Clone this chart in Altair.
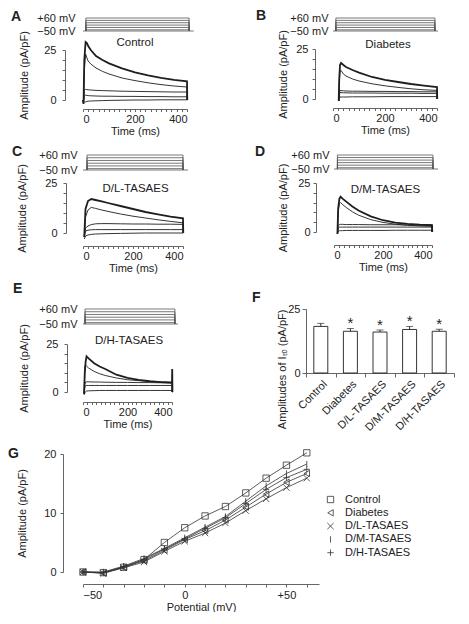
import altair as alt
import pandas as pd

FONT = "Liberation Sans"
INK = "#1e1e1e"
GREY = "#555555"

# ---------------- voltage protocol (mV) ----------------
STEPS = [60, 40, 20, 0, -20, -40]
HOLD = -50
# [step on, step off, end of holding line] (ms)
A_proto = [11, 408, 426]
B_proto = [11, 392, 404]
C_proto = [16, 400, 420]
D_proto = [14, 404, 425]
E_proto = [9, 413, 427]

# ---------------- current traces (pA/pF) ----------------
A_t = [0, 2, 5, 10, 15, 20, 30, 50, 75, 100, 150, 200, 250, 300, 350, 400, 401]
A_s1 = [0, -2, 20, 29, 28.5, 27, 25, 22, 20, 18.3, 15.8, 13.8, 12.3, 11.1, 10.1, 9.3, 0]
A_s2 = [0, -1.5, 15, 23, 21, 19.5, 18, 16, 14.3, 13, 11, 9.7, 8.6, 7.7, 7.0, 6.5, 0]
A_s3 = [0, -1, 5, 5.3, 5.2, 5.1, 5, 4.8, 4.7, 4.6, 4.4, 4.3, 4.2, 4.1, 4.0, 4.0, 0]
A_s4 = [0, -1, 2.2, 2.4, 2.3, 2.2, 2.1, 2.0, 1.9, 1.9, 1.8, 1.8, 1.7, 1.7, 1.6, 1.6, 0]
A_s5 = [0, -1.5, -1.2, -0.9, -0.7, -0.6, -0.5, -0.4, -0.3, -0.2, -0.1, 0, 0, 0.1, 0.1, 0.1, 0]

B_t = [22, 24, 27, 31, 40, 50, 75, 100, 150, 200, 250, 300, 350, 400, 401]
B_s1 = [-1, 10, 17, 18, 17, 16, 14.5, 13.2, 11, 9.6, 8.5, 7.5, 6.7, 6.0, 0]
B_s2 = [-1, 8, 14, 14.3, 12.5, 11.5, 10, 9, 7.6, 6.6, 5.8, 5.1, 4.6, 4.3, 0]
B_s3 = [-1, 3, 4.2, 4.2, 4.1, 4.0, 3.9, 3.9, 3.8, 3.8, 3.7, 3.7, 3.6, 3.6, 0]
B_s4 = [-1, 2, 3.2, 3.2, 3.1, 3.1, 3.0, 3.0, 3.0, 2.9, 2.9, 2.9, 2.8, 2.8, 0]
B_s5 = [-1, 0.5, 1.0, 1.0, 1.0, 1.0, 1.1, 1.1, 1.1, 1.2, 1.2, 1.2, 1.2, 1.2, 0]

C_t = [5, 10, 20, 33, 50, 75, 100, 150, 200, 250, 300, 350, 400, 401]
C_s1 = [-2, 12, 16, 17, 16.5, 15.8, 15, 13.5, 12, 10.5, 9.3, 8.2, 7.3, 0]
C_s2 = [-2, 8, 11.5, 12.8, 12.3, 11.5, 10.8, 9.5, 8.4, 7.5, 6.6, 5.8, 5.1, 0]
C_s3 = [-2, 2.5, 3.5, 4.2, 4.6, 4.7, 4.7, 4.6, 4.5, 4.5, 4.4, 4.4, 4.3, 0]
C_s4 = [-2, 1, 1.4, 1.6, 1.7, 1.7, 1.7, 1.7, 1.7, 1.7, 1.7, 1.7, 1.7, 0]
C_s5 = [-3, -1.5, -1, -0.7, -0.5, -0.4, -0.3, -0.2, -0.1, 0, 0, 0, 0, 0]

D_t = [14, 17, 22, 27, 35, 50, 75, 100, 150, 200, 250, 300, 350, 400, 401]
D_s1 = [-1, 12, 17, 18, 17, 15.5, 13, 11, 8, 6, 4.8, 4.1, 3.7, 3.5, 0]
D_s2 = [-1, 10, 14.5, 15, 14, 12.5, 10.3, 8.6, 6.3, 4.9, 4.0, 3.4, 3.1, 2.9, 0]
D_s3 = [-1, 3, 3.8, 3.9, 3.9, 3.8, 3.8, 3.8, 3.7, 3.7, 3.7, 3.6, 3.6, 3.6, 0]
D_s4 = [-1, 1.8, 2.4, 2.5, 2.5, 2.5, 2.5, 2.5, 2.5, 2.5, 2.5, 2.5, 2.5, 2.5, 0]
D_s5 = [-1, 0.3, 0.6, 0.7, 0.7, 0.8, 0.8, 0.8, 0.8, 0.8, 0.9, 0.9, 0.9, 0.9, 0]

E_t = [5, 8, 12, 16, 25, 50, 75, 100, 150, 200, 250, 300, 350, 400, 401, 402]
E_s1 = [-1, 10, 16, 18.6, 17.5, 15, 13.3, 12, 9, 7.3, 6.3, 5.6, 5.1, 4.8, 12, 0]
E_s2 = [-1, 13, 14, 13.5, 12.5, 10.7, 9.5, 8.6, 7.3, 6.4, 5.9, 5.5, 5.3, 5.2, 0, 0]
E_s3 = [-1, 4, 5.2, 5.3, 5.3, 5.2, 5.2, 5.1, 5.0, 5.0, 4.9, 4.9, 4.8, 4.8, 0, 0]
E_s4 = [-1, 2.5, 3.3, 3.4, 3.4, 3.4, 3.4, 3.4, 3.4, 3.4, 3.4, 3.4, 3.4, 3.4, 0, 0]
E_s5 = [-1.5, -0.5, 0.2, 0.5, 0.6, 0.7, 0.8, 0.8, 0.8, 0.8, 0.8, 0.8, 0.8, 0.8, 0, 0]

# ---------------- panel F ----------------
F_groups = ["Control", "Diabetes", "D/L-TASAES", "D/M-TASAES", "D/H-TASAES"]
F_mean = [18.2, 16.3, 16.0, 17.0, 16.3]
F_err = [1.2, 1.1, 0.8, 1.2, 0.8]
F_sig = ["", "*", "*", "*", "*"]

# ---------------- panel G ----------------
G_pot = [-50, -40, -30, -20, -10, 0, 10, 20, 30, 40, 50, 60]
G_groups = ["Control", "Diabetes", "D/L-TASAES", "D/M-TASAES", "D/H-TASAES"]
G_control = [0, -0.1, 0.8, 2.1, 5.0, 7.5, 9.5, 11.1, 13.4, 15.9, 18.1, 20.2]
G_diabetes = [0, -0.2, 0.8, 1.9, 3.7, 5.5, 7.0, 8.8, 11.0, 13.2, 15.2, 16.7]
G_dl = [0, -0.2, 0.7, 1.7, 3.5, 5.2, 6.6, 8.3, 10.4, 12.4, 14.3, 15.9]
G_dm = [0, 0, 1.0, 2.3, 4.0, 5.8, 7.6, 9.4, 12.0, 14.6, 16.7, 18.3]
G_dh = [0, -0.1, 0.9, 2.1, 3.9, 5.6, 7.4, 9.2, 11.6, 14.0, 16.0, 17.4]


def proto_frame(p):
    on, off, end = p
    rows = [dict(t=0, v=HOLD, s="hold", o=0), dict(t=end, v=HOLD, s="hold", o=1)]
    for V in STEPS:
        for k, (tt, vv) in enumerate([(on, HOLD), (on, V), (off, V), (off, HOLD)]):
            rows.append(dict(t=tt, v=vv, s=f"v{V}", o=k))
    return pd.DataFrame(rows)


def trace_frame(t, series):
    rows = []
    for name, vals in series.items():
        for tt, vv in zip(t, vals):
            rows.append(dict(t=tt, v=vv, s=name))
    return pd.DataFrame(rows)


def letter_title(letter, dx, off):
    return alt.TitleParams(letter, anchor="start", frame="group", fontSize=14,
                           fontWeight="bold", dx=dx, offset=off)


def trace_panel(letter, label, t, series, proto, p):
    W, PH, CH = p["w"], p["ph"], p["ch"]
    xsc = alt.Scale(domain=[0, 400], nice=False, zero=False)
    proto_chart = alt.Chart(proto_frame(proto)).mark_line(
        color=GREY, strokeWidth=0.8
    ).encode(
        x=alt.X("t:Q", scale=xsc, axis=None),
        y=alt.Y("v:Q", scale=alt.Scale(domain=[HOLD, 60], nice=False, zero=False),
                axis=alt.Axis(values=[HOLD, 60],
                              labelExpr="datum.value > 0 ? '+60 mV' : '\u221250 mV'",
                              domain=False, ticks=False, tickSize=0, grid=False,
                              labelPadding=p["plp"], labelFontSize=11, title=None)),
        detail="s:N", order="o:Q",
    ).properties(
        width=W, height=PH,
        title=letter_title(letter, p["ldx"], p["loff"]),
    )

    base = alt.Chart(trace_frame(t, series))
    xax = alt.X("t:Q", scale=xsc,
                axis=alt.Axis(values=list(range(0, 401, 20)),
                              labelExpr="datum.value % 200 == 0 ? datum.label : ''",
                              tickSize=2.5, labelPadding=2,
                              offset=p["xoff"], title="Time (ms)", titlePadding=1, grid=False))
    yax = alt.Y("v:Q", scale=alt.Scale(domain=[0, 25], nice=False, zero=False),
                axis=alt.Axis(values=[0, 5, 10, 15, 20, 25],
                              labelExpr="datum.value == 0 || datum.value == 25 ? datum.label : ''",
                              offset=p["off"], tickSize=3, labelPadding=p["ylp"],
                              title="Amplitude (pA/pF)", titlePadding=p["tp"], grid=False))
    thick = base.transform_filter(alt.datum.s == "s1").mark_line(
        color=INK, strokeWidth=1.8).encode(x=xax, y=yax, detail="s:N")
    thin = base.transform_filter(alt.datum.s != "s1").mark_line(
        color=INK, strokeWidth=0.9).encode(x=xax, y=yax, detail="s:N")

    cur = alt.layer(thick, thin).properties(
        width=W, height=CH,
        title=alt.TitleParams(label, anchor="middle", frame="group", fontSize=11.5,
                              fontWeight="normal", dx=p["cdx"], offset=p["coff"]),
    )
    return alt.vconcat(proto_chart, cur, spacing=p["gap"], bounds="flush")


P = {
    "A": dict(w=104, ph=13, ch=50, gap=19, ldx=-72, loff=-11.5, cdx=0, coff=-18,
              tp=14, off=18, ylp=6, plp=8, xoff=9),
    "B": dict(w=104, ph=13, ch=50, gap=18, ldx=-77, loff=-10.5, cdx=3, coff=-21,
              tp=7, off=18, ylp=4, plp=5, xoff=9),
    "C": dict(w=100, ph=15, ch=50, gap=13, ldx=-71, loff=-10, cdx=2.5, coff=-31,
              tp=17, off=17, ylp=6, plp=6, xoff=13),
    "D": dict(w=98, ph=14, ch=49, gap=14, ldx=-79, loff=-9.5, cdx=2.5, coff=-32,
              tp=9, off=18, ylp=3, plp=5, xoff=13),
    "E": dict(w=89, ph=15, ch=48, gap=20, ldx=-70, loff=7.5, cdx=1.5, coff=-23,
              tp=16, off=16, ylp=6, plp=6, xoff=10),
}

pA = trace_panel("A", "Control", A_t,
                 dict(s1=A_s1, s2=A_s2, s3=A_s3, s4=A_s4, s5=A_s5), A_proto, P["A"])
pB = trace_panel("B", "Diabetes", B_t,
                 dict(s1=B_s1, s2=B_s2, s3=B_s3, s4=B_s4, s5=B_s5), B_proto, P["B"])
pC = trace_panel("C", "D/L-TASAES", C_t,
                 dict(s1=C_s1, s2=C_s2, s3=C_s3, s4=C_s4, s5=C_s5), C_proto, P["C"])
pD = trace_panel("D", "D/M-TASAES", D_t,
                 dict(s1=D_s1, s2=D_s2, s3=D_s3, s4=D_s4, s5=D_s5), D_proto, P["D"])
pE = trace_panel("E", "D/H-TASAES", E_t,
                 dict(s1=E_s1, s2=E_s2, s3=E_s3, s4=E_s4, s5=E_s5), E_proto, P["E"])

# ---------------- F: bar chart ----------------
fdf = pd.DataFrame(dict(g=F_groups, m=F_mean, e=F_err, s=F_sig))
fbase = alt.Chart(fdf).transform_calculate(hi="datum.m + datum.e")
fx = alt.X("g:N", sort=F_groups,
           scale=alt.Scale(paddingInner=0, paddingOuter=0),
           axis=alt.Axis(labelAngle=-45, tickBand="extent", tickSize=4, labelPadding=1,
                         title=None, labelFontSize=11))
fy = alt.Y("m:Q", scale=alt.Scale(domain=[0, 25], nice=False),
           axis=alt.Axis(values=[0, 5, 10, 15, 20, 25], tickSize=4, labelPadding=2, grid=False,
                         title="Amplitudes of I\u209c\u2092 (pA/pF)", titlePadding=0,
                         titleAnchor="end"))
bars = fbase.mark_bar(fill="white", stroke=INK, strokeWidth=0.9, size=14).encode(x=fx, y=fy)
errs = fbase.mark_rule(color=INK, strokeWidth=0.9).encode(
    x=alt.X("g:N", sort=F_groups), y="m:Q", y2="hi:Q")
caps = fbase.mark_tick(color=INK, thickness=0.9, size=7).encode(
    x=alt.X("g:N", sort=F_groups), y="hi:Q")
stars = fbase.mark_text(fontSize=15, baseline="alphabetic", color=INK).encode(
    x=alt.X("g:N", sort=F_groups), y="hi:Q", text="s:N")
pF = alt.layer(bars, errs, caps, stars).properties(
    width=148, height=64, title=letter_title("F", -54, -1.5),
)

# ---------------- G: I-V curves ----------------
gvals = dict(zip(G_groups, [G_control, G_diabetes, G_dl, G_dm, G_dh]))
grows = []
for gname in G_groups:
    for v, a in zip(G_pot, gvals[gname]):
        grows.append(dict(pot=v, amp=a, grp=gname))
gdf = pd.DataFrame(grows)
gbase = alt.Chart(gdf)
gxsc = alt.Scale(domain=[-50, 66], nice=False, zero=False)
gx = alt.X("pot:Q", scale=gxsc,
           axis=alt.Axis(values=G_pot, tickSize=3, offset=12,
                         labelExpr="datum.value == 50 ? '+50' : (datum.value == 0 || datum.value == -50 ? datum.label : '')",
                         labelPadding=2, title="Potential (mV)", titlePadding=1, grid=False))
gy = alt.Y("amp:Q", scale=alt.Scale(domain=[0, 20], nice=False, zero=False),
           axis=alt.Axis(values=[0, 10, 20], offset=20, tickSize=3, labelPadding=4, grid=False,
                         title="Amplitude (pA/pF)", titlePadding=16))
SHAPES = ["square", "triangle-left", "M-1,-1L1,1M-1,1L1,-1", "M0,-1L0,1", "M-1,0L1,0M0,-1L0,1"]
glines = gbase.mark_line(color="#333333", strokeWidth=0.8).encode(
    x=gx, y=gy, detail="grp:N")
gpts = gbase.mark_point(filled=False, color="#333333", size=40, strokeWidth=0.8, opacity=1).encode(
    x=gx, y=gy,
    shape=alt.Shape("grp:N", sort=G_groups,
                    scale=alt.Scale(domain=G_groups, range=SHAPES),
                    legend=alt.Legend(orient="none", legendX=242, legendY=40, title=None,
                                      labelFontSize=11, symbolSize=40, symbolStrokeWidth=0.8,
                                      rowPadding=1.3, labelOffset=9, padding=0,
                                      symbolStrokeColor="#333333")),
)
pG = alt.layer(glines, gpts).properties(
    width=236, height=118, title=letter_title("G", -75, -13),
)

row1 = alt.hconcat(pA, pB, spacing=60)
row2 = alt.hconcat(pC, pD, spacing=65)
row3 = alt.hconcat(pE, pF, spacing=72)

chart = alt.vconcat(
    alt.vconcat(alt.vconcat(row1, row2, spacing=7), row3, spacing=7),
    pG, spacing=14,
).resolve_legend(
    shape="independent"
).properties(
    padding={"left": 0, "top": 0, "right": 0, "bottom": 0}
).configure(
    font=FONT,
).configure_view(
    stroke=None,
).configure_axis(
    labelFont=FONT, titleFont=FONT, labelFontSize=11, titleFontSize=11,
    titleFontWeight="normal", labelColor="#222222", titleColor="#222222",
    domainColor=GREY, tickColor=GREY, domainWidth=0.9, tickWidth=0.9,
).configure_title(
    font=FONT, color="#222222",
).configure_legend(
    labelFont=FONT, labelColor="#222222",
)

chart.save("out.html", embed_options={"renderer": "svg", "actions": False})
